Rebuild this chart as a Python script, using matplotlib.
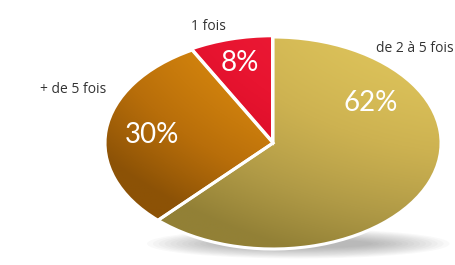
import numpy as np
import matplotlib.pyplot as plt
from matplotlib.colors import LinearSegmentedColormap
from matplotlib.patches import Ellipse

# data
labels = ['de 2 à 5 fois', '+ de 5 fois', '1 fois']
shares = [62, 30, 8]
pct_labels = ['62%', '30%', '8%']

# gradient colours per slice (dark -> light)
slice_cmaps = [
    ['#928036', '#b09a46', '#cdb251', '#e0c65c'],
    ['#8c5206', '#b86e0a', '#d6860e', '#e2930f'],
    ['#b8001a', '#d40a24', '#e81430', '#ee1e38'],
]

fig = plt.figure(figsize=(4.56, 2.65), dpi=100)
ax = fig.add_axes([0, 0, 1, 1])

# soft shadow under the ellipse
for i in range(14):
    ax.add_patch(Ellipse((0.15, -0.95), 1.8 - i * 0.07, 0.28 - i * 0.015,
                         facecolor='#5a5a5a', edgecolor='none',
                         alpha=0.035, zorder=1))

wedges, _ = ax.pie(shares, startangle=90, counterclock=False, radius=1,
                   explode=[0, 0, 0.012],
                   wedgeprops=dict(facecolor='none', edgecolor='white',
                                   linewidth=2.2, zorder=3))

# gradient fills clipped to each wedge
xx, yy = np.meshgrid(np.linspace(-1.1, 1.1, 300), np.linspace(-1.1, 1.1, 300))
t = np.clip(0.5 + 0.32 * xx + 0.42 * yy - 0.12 * (xx ** 2 + yy ** 2), 0, 1)
for w, cols in zip(wedges, slice_cmaps):
    cmap = LinearSegmentedColormap.from_list('g', cols)
    im = ax.imshow(t, cmap=cmap, extent=[-1.1, 1.1, -1.1, 1.1],
                   origin='lower', vmin=0, vmax=1, zorder=2,
                   interpolation='bilinear')
    im.set_clip_path(w)

# percentages inside slices
pct_pos = [(0.58, 0.38), (-0.72, 0.08), (-0.20, 0.75)]
for (px, py), txt in zip(pct_pos, pct_labels):
    ax.text(px, py, txt, color='white', fontsize=20, family='Lato',
            ha='center', va='center', zorder=4)

ax.set_aspect('auto')
ax.set_xlim(-1.625, 1.089)
ax.set_ylim(-1.151, 1.349)
ax.axis('off')

# outside labels
label_pos = [(376 / 456, 1 - 48 / 265, 'left'),
             (73 / 456, 1 - 90 / 265, 'center'),
             (208 / 456, 1 - 27 / 265, 'center')]
for (lx, ly, ha), txt in zip(label_pos, labels):
    fig.text(lx, ly, txt, color='#333333', fontsize=10, family='Open Sans',
             ha=ha, va='center')

fig.savefig('out.png', dpi=100, facecolor='white')
